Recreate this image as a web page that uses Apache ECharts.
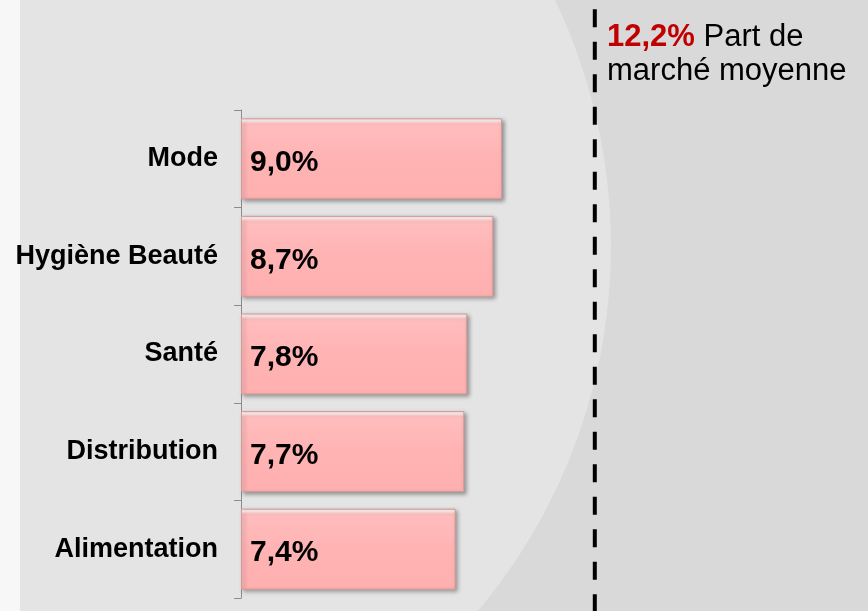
<!DOCTYPE html>
<html>
<head>
<meta charset="utf-8">
<script src="https://cdn.jsdelivr.net/npm/echarts@6/dist/echarts.min.js"></script>
<style>
  html, body { margin: 0; padding: 0; }
  #main { width: 868px; height: 611px; }
</style>
</head>
<body>
<div id="main"></div>
<script>
// données (bas -> haut)
const secteurs = ['Alimentation', 'Distribution', 'Santé', 'Hygiène Beauté', 'Mode'];
const parts = [7.4, 7.7, 7.8, 8.7, 9.0];
const moyenne = 12.2;
const moyenneTexte = 'Part de\nmarché moyenne';

const font = "'Liberation Sans', Arial, sans-serif";
function pct(v) {
  return v.toFixed(1).replace('.', ',') + '%';
}

let myChart = echarts.init(document.getElementById('main'));

myChart.setOption({
  backgroundColor: '#d9d9d9',
  animation: false,
  grid: { left: 241, top: 110, width: 580, height: 488 },
  xAxis: {
    type: 'value',
    min: 0,
    max: 20,
    show: false
  },
  yAxis: {
    type: 'category',
    data: secteurs,
    axisLine: { show: true, lineStyle: { color: '#8c8c8c', width: 1 } },
    axisTick: { show: true, length: 7, lineStyle: { color: '#8c8c8c' } },
    axisLabel: {
      margin: 23,
      color: '#000',
      fontFamily: font,
      fontWeight: 'bold',
      fontSize: 27,
      padding: [8, 0, 0, 0]
    },
    splitLine: { show: false }
  },
  series: [
    {
      type: 'bar',
      data: parts,
      barCategoryGap: '17%',
      z: 3,
      itemStyle: {
        color: {
          type: 'linear', x: 0, y: 0, x2: 0, y2: 1,
          colorStops: [
            { offset: 0, color: '#ffd9d9' },
            { offset: 0.03, color: '#fff4f4' },
            { offset: 0.07, color: '#ffbdbd' },
            { offset: 0.5, color: '#ffb3b3' },
            { offset: 1, color: '#ffb0b0' }
          ]
        },
        borderColor: '#d49a9a',
        borderWidth: 1,
        shadowColor: 'rgba(0,0,0,0.35)',
        shadowBlur: 4,
        shadowOffsetX: 2,
        shadowOffsetY: 2
      },
      label: {
        show: true,
        position: 'insideLeft',
        distance: 9,
        offset: [0, 4],
        formatter: function (p) { return pct(p.value); },
        color: '#000',
        fontFamily: font,
        fontWeight: 'bold',
        fontSize: 30
      }
    }
  ]
});

// ligne de la moyenne + fond
let xMoy = myChart.convertToPixel({ xAxisIndex: 0 }, moyenne);

myChart.setOption({
  graphic: [
    {
      type: 'circle',
      shape: { cx: 44, cy: 246, r: 567 },
      style: { fill: '#e4e4e4' },
      z: -10,
      silent: true
    },
    {
      type: 'rect',
      shape: { x: 0, y: 0, width: 20, height: 611 },
      style: { fill: '#f7f7f7' },
      z: -9,
      silent: true
    },
    {
      type: 'line',
      shape: { x1: xMoy, y1: 0, x2: xMoy, y2: 611 },
      style: {
        stroke: '#000',
        lineWidth: 4,
        lineDash: [18, 14.5],
        lineDashOffset: 23.2
      },
      z: 5,
      silent: true
    },
    {
      type: 'text',
      left: 607,
      top: 20,
      style: {
        text: '{r|' + pct(moyenne) + '} ' + moyenneTexte,
        font: '31px ' + font,
        fill: '#000',
        lineHeight: 34,
        rich: {
          r: {
            fill: '#c00000',
            fontWeight: 'bold',
            fontSize: 31,
            fontFamily: font,
            lineHeight: 34
          }
        }
      },
      z: 6
    }
  ]
});
</script>
</body>
</html>
